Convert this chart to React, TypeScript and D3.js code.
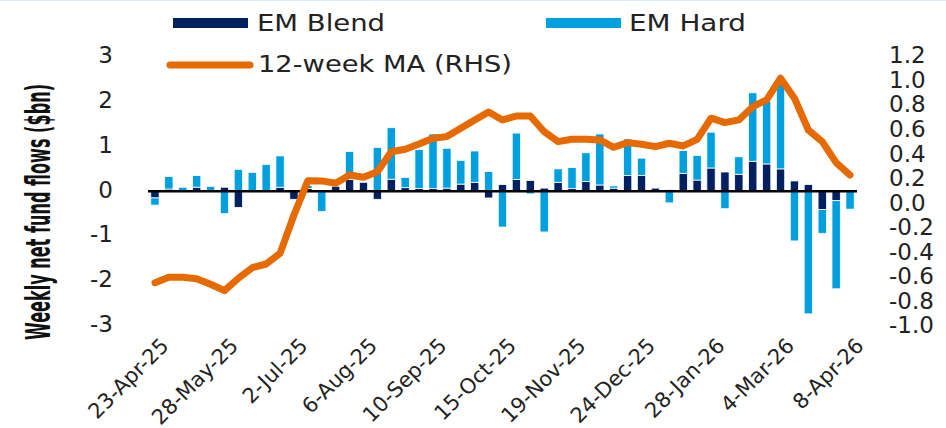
import React, { useEffect, useRef } from "react";
import * as d3 from "d3";

// weekly flows, $bn (23-Apr-25 .. 8-Apr-26)
const emBlend = [
  -0.15, 0.05, 0.0, 0.09, 0.0, 0.09, -0.36, 0.0, 0.0, 0.09,
  -0.18, 0.06, 0.0, 0.11, 0.26, 0.2, -0.18, 0.27, 0.08, 0.06,
  0.06, 0.07, 0.16, 0.2, -0.15, 0.15, 0.26, 0.24, 0.07, 0.2,
  0.06, 0.22, 0.14, 0.07, 0.35, 0.35, 0.07, 0.04, 0.4, 0.25,
  0.52, 0.43, 0.38, 0.67, 0.61, 0.5, 0.23, 0.15, -0.41, -0.21,
  0.0,
];
const emHard = [
  -0.16, 0.28, 0.09, 0.26, 0.11, -0.5, 0.49, 0.42, 0.6, 0.7,
  0.0, 0.07, -0.45, 0.0, 0.63, 0.0, 0.98, 1.15, 0.23, 0.87,
  1.22, 0.89, 0.53, 0.7, 0.44, -0.8, 1.04, -0.06, -0.91, 0.3,
  0.47, 0.64, 1.14, 0.05, 0.82, 0.39, 0.0, -0.26, 0.51, 0.55,
  0.8, -0.39, 0.39, 1.53, 1.4, 1.91, -1.11, -2.74, -0.53, -1.97,
  -0.4,
];
// 12-week moving average, right axis
const ma12 = [
  -0.655, -0.611, -0.611, -0.623, -0.668, -0.72, -0.619, -0.533, -0.503, -0.416,
  -0.104, 0.176, 0.174, 0.155, 0.222, 0.204, 0.249, 0.412, 0.432, 0.475,
  0.522, 0.535, 0.603, 0.671, 0.736, 0.671, 0.703, 0.703, 0.575, 0.494,
  0.513, 0.513, 0.508, 0.448, 0.486, 0.473, 0.453, 0.481, 0.459, 0.513,
  0.685, 0.649, 0.671, 0.779, 0.834, 1.011, 0.848, 0.589, 0.494, 0.323,
  0.222,
];
const tickLabels = [
  "23-Apr-25", "28-May-25", "2-Jul-25", "6-Aug-25", "10-Sep-25", "15-Oct-25",
  "19-Nov-25", "24-Dec-25", "28-Jan-26", "4-Mar-26", "8-Apr-26",
];
const leftTicks = [3, 2, 1, 0, -1, -2, -3];
const rightTicks = [1.2, 1.0, 0.8, 0.6, 0.4, 0.2, 0.0, -0.2, -0.4, -0.6, -0.8, -1.0];

const NAVY = "#002060";
const LIGHT = "#00A0DF";
const ORANGE = "#E66A00";
const FONT = "DejaVu Sans, sans-serif";

export default function App() {
  const ref = useRef<SVGSVGElement>(null);

  useEffect(() => {
    const svg = d3.select(ref.current);
    svg.selectAll("*").remove();

    const n = emBlend.length;
    const x = d3.scaleBand<number>()
      .domain(d3.range(n))
      .range([148, 857])
      .paddingInner(0.4)
      .paddingOuter(0.2);
    const yL = d3.scaleLinear().domain([-3, 3]).range([325.5, 57]);
    const yR = d3.scaleLinear().domain([-1.0, 1.2]).range([325, 55]);

    svg.append("line")
      .attr("x1", 0).attr("x2", 946).attr("y1", 0.5).attr("y2", 0.5)
      .attr("stroke", "#dce9f3");

    // diverging stack: blend next to zero, hard outside
    const rows = emBlend.map((b, i) => ({ i, b, h: emHard[i] }));
    const segs: { i: number; y0: number; y1: number; c: string }[] = [];
    rows.forEach(r => {
      let pos = 0, neg = 0;
      [[r.b, NAVY], [r.h, LIGHT]].forEach(([v, c]: any) => {
        if (v === 0) return;
        if (v > 0) { segs.push({ i: r.i, y0: pos, y1: pos + v, c }); pos += v; }
        else { segs.push({ i: r.i, y0: neg, y1: neg + v, c }); neg += v; }
      });
    });

    svg.append("g")
      .selectAll("rect")
      .data(segs)
      .join("rect")
      .attr("x", d => x(d.i)!)
      .attr("width", x.bandwidth())
      .attr("y", d => yL(Math.max(d.y0, d.y1)))
      .attr("height", d => Math.abs(yL(d.y0) - yL(d.y1)))
      .attr("fill", d => d.c)
      .attr("stroke", "#fff")
      .attr("stroke-width", 0.8);

    svg.append("line")
      .attr("x1", 148).attr("x2", 857)
      .attr("y1", yL(0)).attr("y2", yL(0))
      .attr("stroke", "#000").attr("stroke-width", 2.5);

    const line = d3.line<number>()
      .x((_, i) => x(i)! + x.bandwidth() / 2)
      .y(d => yR(d));
    svg.append("path")
      .datum(ma12)
      .attr("d", line)
      .attr("fill", "none")
      .attr("stroke", ORANGE)
      .attr("stroke-width", 7)
      .attr("stroke-linejoin", "round")
      .attr("stroke-linecap", "round");

    // left axis labels
    svg.append("g")
      .selectAll("text")
      .data(leftTicks)
      .join("text")
      .attr("x", 113)
      .attr("y", d => yL(d) - 2 + 8.4)
      .attr("text-anchor", "end")
      .attr("font-family", FONT)
      .attr("font-size", 23)
      .attr("fill", "#222")
      .text(d => String(d));

    // right axis labels
    svg.append("g")
      .selectAll("text")
      .data(rightTicks)
      .join("text")
      .attr("x", 889)
      .attr("y", d => yR(d) + 8.4)
      .attr("font-family", FONT)
      .attr("font-size", 23)
      .attr("fill", "#222")
      .text(d => d3.format(".1f")(d).replace("−", "-"));

    // x labels every 5 weeks
    svg.append("g")
      .selectAll("text")
      .data(tickLabels)
      .join("text")
      .attr("transform", (_, k) => {
        const cx = x(k * 5)! + x.bandwidth() / 2 + 15;
        return `translate(${cx},${347}) rotate(-45)`;
      })
      .attr("text-anchor", "end")
      .attr("font-family", FONT)
      .attr("font-size", 21)
      .attr("fill", "#222")
      .text(d => d);

    // y title
    svg.append("text")
      .attr("transform", "translate(49.5,212) rotate(-90)")
      .attr("text-anchor", "middle")
      .attr("font-family", FONT)
      .attr("font-weight", "bold")
      .attr("font-size", 33)
      .attr("textLength", 256)
      .attr("lengthAdjust", "spacingAndGlyphs")
      .attr("fill", "#111")
      .text("Weekly net fund flows ($bn)");

    // legend
    const lg = svg.append("g").attr("font-family", FONT).attr("font-size", 23.5).attr("fill", "#222");
    lg.append("rect").attr("x", 173).attr("y", 18).attr("width", 75).attr("height", 10).attr("fill", NAVY);
    lg.append("text").attr("x", 257).attr("y", 31)
      .attr("textLength", 128).attr("lengthAdjust", "spacingAndGlyphs").text("EM Blend");
    lg.append("rect").attr("x", 546).attr("y", 18).attr("width", 75).attr("height", 10).attr("fill", LIGHT);
    lg.append("text").attr("x", 629).attr("y", 31)
      .attr("textLength", 117).attr("lengthAdjust", "spacingAndGlyphs").text("EM Hard");
    lg.append("line").attr("x1", 170).attr("x2", 250).attr("y1", 65).attr("y2", 65)
      .attr("stroke", ORANGE).attr("stroke-width", 7).attr("stroke-linecap", "round");
    lg.append("text").attr("x", 258).attr("y", 72)
      .attr("textLength", 254).attr("lengthAdjust", "spacingAndGlyphs").text("12-week MA (RHS)");
  }, []);

  return (
    <svg
      ref={ref}
      width={946}
      height={428}
      style={{ position: "absolute", left: 0, top: 0, background: "#fff" }}
    />
  );
}
